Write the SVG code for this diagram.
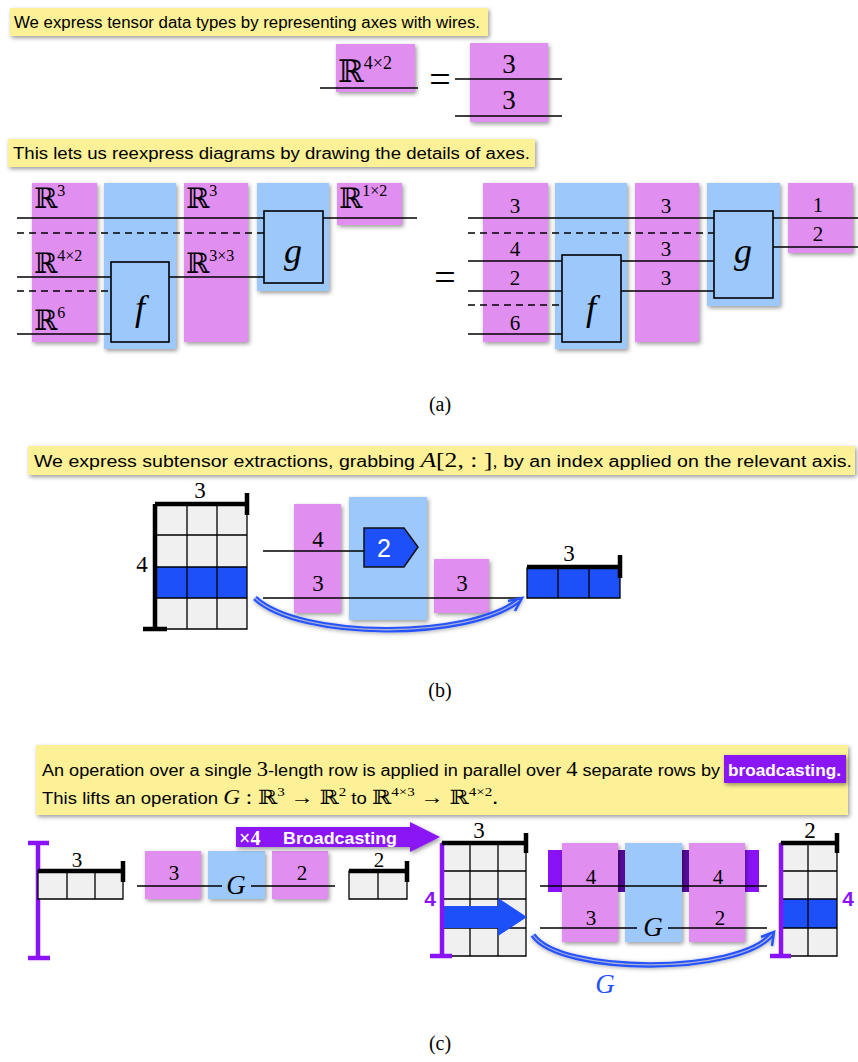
<svg xmlns="http://www.w3.org/2000/svg" width="858" height="1062" viewBox="0 0 858 1062">
<defs>
<filter id="sh" x="-20%" y="-20%" width="140%" height="150%"><feDropShadow dx="1.5" dy="2" stdDeviation="2" flood-color="#000" flood-opacity="0.4"/></filter>
<filter id="glow" x="-10%" y="-30%" width="120%" height="160%"><feDropShadow dx="0" dy="1" stdDeviation="2" flood-color="#000" flood-opacity="0.35"/></filter>
</defs>
<style>
.pk{fill:#e08ef0}
.bl{fill:#9cc8fc}
.yl{fill:#fcf197}
.w{stroke:#000;stroke-width:1.3;fill:none}
.d{stroke-dasharray:7 5}
.bx{fill:#9cc8fc;stroke:#000;stroke-width:1.6}
.sans{font-family:"Liberation Sans",Arial,sans-serif}
.m{font-family:"Liberation Serif","DejaVu Serif",serif}
.it{font-style:italic}
.c{text-anchor:middle}
.gc{fill:#f0f0f0}
.gl{stroke:#000;stroke-width:1.3;fill:none}
.ax{stroke:#000;stroke-width:4.5;fill:none}
.pax{stroke:#8a12f6;stroke-width:4.5;fill:none}
.db{fill:#1e50fa}
.arr{stroke:#2552ff;stroke-width:5.5;fill:none}
.arri{stroke:#a8b0d0;stroke-width:1.3;fill:none}
</style>

<!-- ===== Top section ===== -->
<g id="hdr1"><rect class="yl" x="10" y="8" width="478" height="28" filter="url(#sh)"/>
<text class="sans" x="14" y="28" font-size="16" textLength="466" lengthAdjust="spacingAndGlyphs">We express tensor data types by representing axes with wires.</text></g>

<g id="top-R42"><rect class="pk" x="336" y="44" width="79" height="48" filter="url(#sh)"/>
<text class="m" x="338" y="82" font-size="31">ℝ<tspan dy="-13" font-size="18">4×2</tspan></text></g>
<text class="m c" x="440" y="92" font-size="38">=</text>
<g id="top-33"><rect class="pk" x="470" y="43" width="78" height="79" filter="url(#sh)"/>
<text class="m c" x="509" y="73" font-size="27">3</text>
<text class="m c" x="509" y="109" font-size="27">3</text></g>
<g id="top-wires">
<line class="w" x1="320" y1="88" x2="418" y2="88"/>
<line class="w" x1="455" y1="79" x2="562" y2="79"/>
<line class="w" x1="455" y1="116" x2="562" y2="116"/>
</g>

<!-- ===== (a) ===== -->
<g id="hdr2"><rect class="yl" x="8" y="139" width="527" height="28" filter="url(#sh)"/>
<text class="sans" x="13" y="159" font-size="16" textLength="517" lengthAdjust="spacingAndGlyphs">This lets us reexpress diagrams by drawing the details of axes.</text></g>

<g id="a-left-bg">
<rect class="pk" x="32" y="183" width="65" height="159" filter="url(#sh)"/>
<rect class="bl" x="104" y="183" width="72" height="166" filter="url(#sh)"/>
<rect class="pk" x="184" y="183" width="64" height="159" filter="url(#sh)"/>
<rect class="bl" x="257" y="183" width="72" height="108" filter="url(#sh)"/>
<rect class="pk" x="337" y="183" width="65" height="42" filter="url(#sh)"/>
</g>
<g id="a-left-wires">
<line class="w" x1="17" y1="218" x2="264" y2="218"/>
<line class="w" x1="323" y1="218" x2="417" y2="218"/>
<line class="w d" x1="17" y1="233" x2="264" y2="233"/>
<line class="w" x1="17" y1="277" x2="111" y2="277"/>
<line class="w" x1="169" y1="277" x2="264" y2="277"/>
<line class="w d" x1="17" y1="291" x2="111" y2="291"/>
<line class="w" x1="17" y1="334" x2="111" y2="334"/>
</g>
<g id="a-left-f"><rect class="bx" x="111" y="262" width="58" height="80"/><text class="m it c" x="140" y="320" font-size="36">f</text></g>
<g id="a-left-g"><rect class="bx" x="264" y="211" width="59" height="72"/><text class="m it c" x="293" y="263" font-size="36">g</text></g>
<g id="a-left-labels">
<text class="m" x="34" y="208" font-size="28">ℝ<tspan dy="-12" font-size="16">3</tspan></text>
<text class="m" x="34" y="273" font-size="28">ℝ<tspan dy="-12" font-size="16">4×2</tspan></text>
<text class="m" x="34" y="330" font-size="28">ℝ<tspan dy="-12" font-size="16">6</tspan></text>
<text class="m" x="186" y="208" font-size="28">ℝ<tspan dy="-12" font-size="16">3</tspan></text>
<text class="m" x="186" y="273" font-size="28">ℝ<tspan dy="-12" font-size="16">3×3</tspan></text>
<text class="m" x="339" y="208" font-size="28">ℝ<tspan dy="-12" font-size="16">1×2</tspan></text>
</g>

<text class="m c" x="445" y="290" font-size="38">=</text>

<g id="a-right-bg">
<rect class="pk" x="483" y="183" width="65" height="159" filter="url(#sh)"/>
<rect class="bl" x="555" y="183" width="72" height="166" filter="url(#sh)"/>
<rect class="pk" x="635" y="183" width="64" height="159" filter="url(#sh)"/>
<rect class="bl" x="707" y="183" width="73" height="123" filter="url(#sh)"/>
<rect class="pk" x="788" y="183" width="65" height="70" filter="url(#sh)"/>
</g>
<g id="a-right-wires">
<line class="w" x1="468" y1="218" x2="714" y2="218"/>
<line class="w" x1="773" y1="218" x2="858" y2="218"/>
<line class="w d" x1="468" y1="233" x2="714" y2="233"/>
<line class="w" x1="773" y1="247" x2="858" y2="247"/>
<line class="w" x1="468" y1="261" x2="562" y2="261"/>
<line class="w" x1="621" y1="261" x2="714" y2="261"/>
<line class="w" x1="468" y1="291" x2="562" y2="291"/>
<line class="w" x1="621" y1="291" x2="714" y2="291"/>
<line class="w d" x1="468" y1="305" x2="562" y2="305"/>
<line class="w" x1="468" y1="334" x2="562" y2="334"/>
</g>
<g id="a-right-f"><rect class="bx" x="562" y="255" width="59" height="87"/><text class="m it c" x="591" y="320" font-size="36">f</text></g>
<g id="a-right-g"><rect class="bx" x="714" y="211" width="59" height="87"/><text class="m it c" x="743" y="263" font-size="36">g</text></g>
<g id="a-right-labels">
<text class="m c" x="515" y="213" font-size="21">3</text>
<text class="m c" x="515" y="256" font-size="21">4</text>
<text class="m c" x="515" y="285" font-size="21">2</text>
<text class="m c" x="515" y="330" font-size="21">6</text>
<text class="m c" x="666" y="213" font-size="21">3</text>
<text class="m c" x="666" y="256" font-size="21">3</text>
<text class="m c" x="666" y="285" font-size="21">3</text>
<text class="m c" x="818" y="212" font-size="21">1</text>
<text class="m c" x="818" y="241" font-size="21">2</text>
</g>
<text class="m c" x="440" y="411" font-size="20">(a)</text>

<!-- ===== (b) ===== -->
<g id="hdr3"><rect class="yl" x="28" y="446" width="827" height="29" filter="url(#sh)"/>
<text class="sans" x="34" y="467" font-size="16" textLength="818" lengthAdjust="spacingAndGlyphs">We express subtensor extractions, grabbing <tspan class="m it" font-size="21">A</tspan><tspan class="m" font-size="21">[2, : ]</tspan>, by an index applied on the relevant axis.</text></g>

<g id="b-grid">
<rect class="gc" x="156" y="504" width="91" height="125"/>
<rect class="db" x="156" y="567" width="91" height="31"/>
<path class="gl" d="M187 504V629M217 504V629M156 535H247M156 567H247M156 598H247M156 504H247V629H156Z"/>
<path class="ax" d="M155 504H247M247 493V515M155 504V629M143 629H167"/>
<text class="m c" x="200" y="498" font-size="23">3</text>
<text class="m c" x="142" y="572" font-size="23">4</text>
</g>
<g id="b-A"><rect class="pk" x="294" y="504" width="47" height="109" filter="url(#sh)"/>
<text class="m c" x="318" y="547" font-size="23">4</text><text class="m c" x="318" y="591" font-size="23">3</text></g>
<g id="b-idx"><rect class="bl" x="349" y="497" width="78" height="123" filter="url(#sh)"/></g>
<g id="b-out"><rect class="pk" x="434" y="559" width="55" height="54" filter="url(#sh)"/>
<text class="m c" x="462" y="591" font-size="23">3</text></g>
<g id="b-wires">
<line class="w" x1="263" y1="551" x2="364" y2="551"/>
<line class="w" x1="263" y1="598" x2="520" y2="598"/>
</g>
<g id="b-pent"><path d="M364 528H404L418 547L404 567H364Z" fill="#1e50fa" stroke="#111" stroke-width="1.5"/>
<text class="sans c" x="384" y="557" font-size="25" fill="#fff">2</text></g>
<g id="b-arrow" filter="url(#glow)">
<path class="arr" d="M255 598C300 640 470 640 519 600"/>
<path class="arri" d="M255 598C300 640 470 640 519 600"/>
<path d="M515 611L522 598L508 601" stroke="#2552ff" stroke-width="2.5" fill="none"/>
</g>
<g id="b-strip">
<rect class="db" x="527" y="568" width="93" height="30"/>
<path class="gl" d="M558 568V598M589 568V598M527 568H620V598H527Z"/>
<path class="ax" d="M527 567H620M620 555V578"/>
<text class="m c" x="569" y="561" font-size="23">3</text>
</g>
<text class="m c" x="440" y="697" font-size="20">(b)</text>

<!-- ===== (c) ===== -->
<g id="hdr4"><rect class="yl" x="36" y="745" width="812" height="70" filter="url(#sh)"/>
<text class="sans" x="42" y="776" font-size="16" textLength="678" lengthAdjust="spacingAndGlyphs">An operation over a single <tspan class="m" font-size="20">3</tspan>-length row is applied in parallel over <tspan class="m" font-size="20">4</tspan> separate rows by</text>
<rect x="724" y="755" width="122" height="28" fill="#8a12f6" filter="url(#sh)"/>
<text class="sans" x="728" y="776" font-size="17" font-weight="bold" fill="#fff" textLength="113" lengthAdjust="spacingAndGlyphs">broadcasting.</text>
<text class="sans" x="42" y="804" font-size="16" textLength="456" lengthAdjust="spacingAndGlyphs">This lifts an operation <tspan class="m it" font-size="20">G</tspan><tspan class="m" font-size="20"> : ℝ</tspan><tspan class="m" dy="-8" font-size="13">3</tspan><tspan class="m" dy="8" font-size="20"> → ℝ</tspan><tspan class="m" dy="-8" font-size="13">2</tspan><tspan dy="8"> to </tspan><tspan class="m" font-size="20">ℝ</tspan><tspan class="m" dy="-8" font-size="13">4×3</tspan><tspan class="m" dy="8" font-size="20"> → ℝ</tspan><tspan class="m" dy="-8" font-size="13">4×2</tspan><tspan class="m" dy="8" font-size="20">.</tspan></text></g>

<g id="c-ibeam"><path class="pax" d="M38 843V958M28 843H49M28 958H50"/></g>
<g id="c-in">
<rect class="gc" x="38" y="871" width="85" height="28"/>
<path class="gl" d="M67 871V899M95 871V899M38 871H123V899H38Z"/>
<path class="ax" d="M38 871H123M123 861V882"/>
<text class="m c" x="77" y="867" font-size="21">3</text>
</g>
<g id="c-A"><rect class="pk" x="145" y="851" width="56" height="48" filter="url(#sh)"/><text class="m c" x="174" y="880" font-size="21">3</text></g>
<g id="c-G"><rect class="bl" x="208" y="851" width="57" height="48" filter="url(#sh)"/></g>
<g id="c-B"><rect class="pk" x="272" y="851" width="56" height="48" filter="url(#sh)"/><text class="m c" x="302" y="880" font-size="21">2</text></g>
<g id="c-wires1">
<line class="w" x1="137" y1="886" x2="222" y2="886"/>
<line class="w" x1="251" y1="886" x2="335" y2="886"/>
</g>
<text class="m it c" x="236" y="894" font-size="27">G</text>
<g id="c-out">
<rect class="gc" x="349" y="871" width="58" height="28"/>
<path class="gl" d="M378 871V899M349 871H407V899H349Z"/>
<path class="ax" d="M349 871H407M407 861V882"/>
<text class="m c" x="379" y="867" font-size="21">2</text>
</g>

<g id="c-bcast"><path d="M236 827H410V822L440 837L410 852V847H236Z" fill="#8a12f6" filter="url(#sh)"/>
<text class="m" x="239" y="845" font-size="20" font-weight="bold" fill="#fff">×4</text>
<text class="sans" x="283" y="844" font-size="17" font-weight="bold" fill="#fff" textLength="114" lengthAdjust="spacingAndGlyphs">Broadcasting</text></g>

<g id="c-big">
<rect class="gc" x="442" y="843" width="84" height="113"/>
<path class="gl" d="M470 843V956M498 843V956M442 871H526M442 899H526M442 928H526M442 843H526V956H442Z"/>
<path d="M442 906H498V898L527 917L498 936V928H442Z" fill="#1e50fa"/>
<path class="pax" d="M442 843V956M430 956H452"/>
<path class="ax" d="M442 843H526M526 833V853"/>
<text class="m c" x="479" y="838" font-size="23">3</text>
<text class="sans c" x="430" y="906" font-size="21" font-weight="bold" fill="#8a12f6">4</text>
</g>

<g id="c-lift">
<rect x="548" y="850" width="211" height="42" fill="#8a12f6"/>
<rect x="616" y="850" width="11" height="42" fill="#5a0aa0"/>
<rect x="680" y="850" width="11" height="42" fill="#5a0aa0"/>
<rect class="pk" x="562" y="843" width="56" height="99" filter="url(#sh)"/>
<rect class="bl" x="625" y="843" width="57" height="99" filter="url(#sh)"/>
<rect class="pk" x="689" y="843" width="56" height="99" filter="url(#sh)"/>
<line class="w" x1="540" y1="886" x2="767" y2="886"/>
<line class="w" x1="540" y1="928" x2="637" y2="928"/>
<line class="w" x1="668" y1="928" x2="767" y2="928"/>
<text class="m c" x="591" y="884" font-size="21">4</text>
<text class="m c" x="591" y="925" font-size="21">3</text>
<text class="m c" x="718" y="884" font-size="21">4</text>
<text class="m c" x="720" y="925" font-size="21">2</text>
<text class="m it c" x="653" y="936" font-size="27">G</text>
</g>

<g id="c-arrow" filter="url(#glow)">
<path class="arr" d="M533 935C560 975 740 975 772 934"/>
<path class="arri" d="M533 935C560 975 740 975 772 934"/>
<path d="M772 946L774 932L761 937" stroke="#2552ff" stroke-width="2.5" fill="none"/>
</g>
<text class="m it c" x="605" y="993" font-size="27" fill="#2552ff">G</text>

<g id="c-right">
<rect class="gc" x="781" y="843" width="56" height="113"/>
<rect class="db" x="781" y="899" width="56" height="29"/>
<path class="gl" d="M808 843V956M781 871H837M781 899H837M781 928H837M781 843H837V956H781Z"/>
<path class="pax" d="M781 843V956M770 956H791"/>
<path class="ax" d="M781 843H837M837 833V853"/>
<text class="m c" x="810" y="838" font-size="23">2</text>
<text class="sans c" x="848" y="906" font-size="21" font-weight="bold" fill="#8a12f6">4</text>
</g>
<text class="m c" x="440" y="1050" font-size="20">(c)</text>
</svg>
